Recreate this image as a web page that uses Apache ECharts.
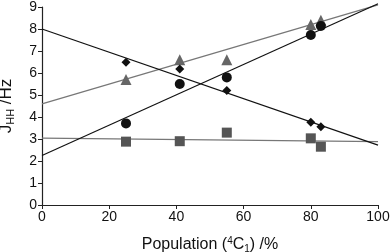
<!DOCTYPE html>
<html><head><meta charset="utf-8">
<script src="https://cdn.jsdelivr.net/npm/echarts@6/dist/echarts.min.js"></script>
<style>html,body{margin:0;padding:0;background:#fff}#c{width:392px;height:252px}</style>
</head><body><div id="c"></div>
<script>
var population = [25, 41, 55, 80, 83];
var circleVals = [3.71, 5.5, 5.8, 7.73, 8.14];
var diamondVals = [6.49, 6.18, 5.2, 3.76, 3.56];
var triangleVals = [5.7, 6.6, 6.6, 8.2, 8.4];
var squareVals = [2.88, 2.9, 3.29, 3.03, 2.65];
var fitRiseBlack = [[0, 2.25], [100, 9.15]];
var fitFallBlack = [[0, 8.0], [100, 2.72]];
var fitRiseGray = [[0, 4.6], [100, 9.1]];
var fitFlatGray = [[0, 3.04], [100, 2.88]];
var xTicks = [0, 20, 40, 60, 80, 100];
var yTicks = [0, 1, 2, 3, 4, 5, 6, 7, 8, 9];

function pts(vals){ return population.map(function(x,i){ return [x, vals[i]]; }); }
var F = 'Liberation Sans, Arial, sans-serif';
var chart = echarts.init(document.getElementById('c'), null, {renderer:'canvas'});
function lineSeries(d, color, w){
  return {type:'line', data:d, symbol:'none', clip:false, silent:true, z:1,
    lineStyle:{color:color, width:w}};
}
function scatter(vals, sym, size, color){
  return {type:'scatter', data:pts(vals), symbol:sym, symbolSize:size, z:3,
    itemStyle:{color:color, opacity:1}};
}
chart.setOption({
  animation:false,
  grid:{left:42, right:14, top:7, bottom:47, containLabel:false, outerBoundsMode:'none'},
  xAxis:{type:'value', min:0, max:100, interval:20,
    axisLine:{lineStyle:{color:'#222', width:1.2}},
    axisTick:{inside:false, length:4, lineStyle:{color:'#222'}},
    splitLine:{show:false},
    axisLabel:{fontFamily:F, fontSize:14, color:'#111', margin:5,
      formatter:function(v){ return xTicks.indexOf(v)>=0 ? String(v) : ''; }},
    name:'{t|Population (}{sup|4}{t|C}{sub|1}{t|) /%}', nameLocation:'middle', nameGap:31,
    nameTextStyle:{fontFamily:F, fontSize:16, color:'#111',
      rich:{t:{fontFamily:F, fontSize:16, color:'#111'},
            sup:{fontFamily:F, fontSize:10, color:'#111', padding:[0,0,8,0]},
            sub:{fontFamily:F, fontSize:10, color:'#111', padding:[8,0,0,0]}}}
  },
  yAxis:{type:'value', min:0, max:9, interval:1,
    axisLine:{show:true, lineStyle:{color:'#222', width:1.2}},
    axisTick:{show:true, inside:false, length:4, lineStyle:{color:'#222'}},
    splitLine:{show:false},
    axisLabel:{fontFamily:F, fontSize:14, color:'#111', margin:5,
      formatter:function(v){ return yTicks.indexOf(v)>=0 ? String(v) : ''; }},
    name:'{t|J}{sub|HH}{t| /Hz}', nameLocation:'middle', nameGap:26, nameRotate:90,
    nameTextStyle:{fontFamily:F, fontSize:17, color:'#111',
      rich:{t:{fontFamily:F, fontSize:17, color:'#111'},
            sub:{fontFamily:F, fontSize:11, color:'#111', padding:[9,0,0,0]}}}
  },
  series:[
    lineSeries(fitRiseGray, '#777', 1.2),
    lineSeries(fitFlatGray, '#777', 1.2),
    lineSeries(fitRiseBlack, '#111', 1.2),
    lineSeries(fitFallBlack, '#111', 1.2),
    scatter(squareVals, 'rect', 10, '#555'),
    scatter(triangleVals, 'triangle', 11, '#666'),
    scatter(circleVals, 'circle', 10, '#111'),
    scatter(diamondVals, 'diamond', 9, '#111')
  ]
});
</script></body></html>
